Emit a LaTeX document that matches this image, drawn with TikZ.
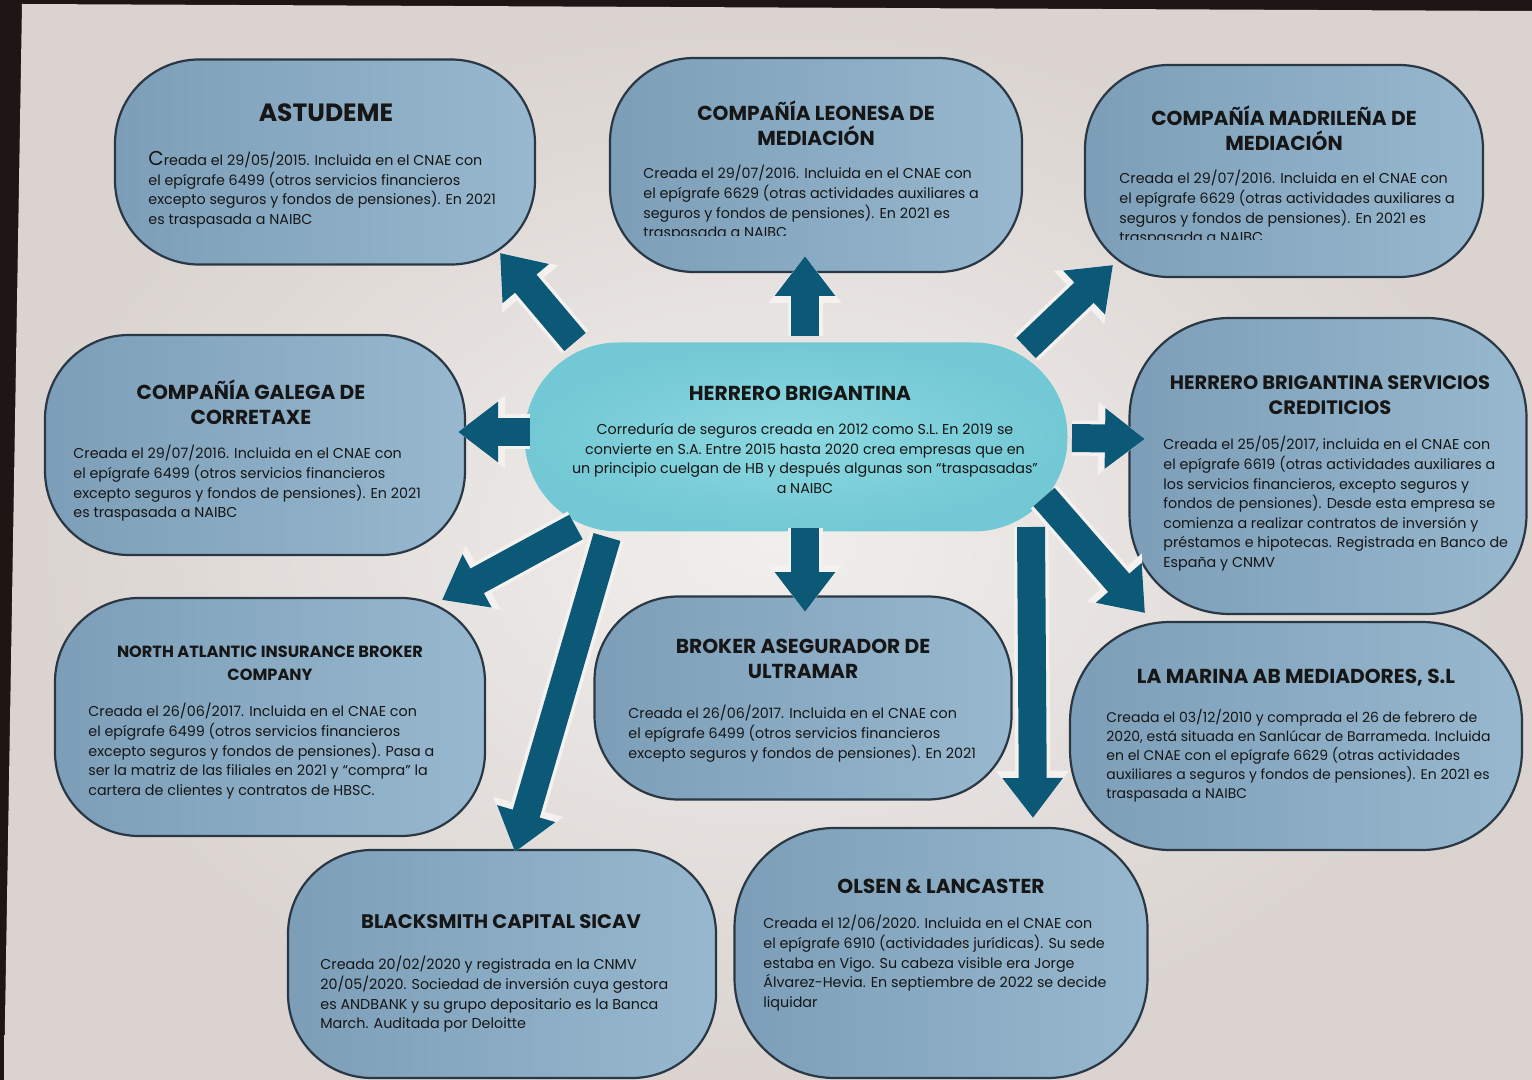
\documentclass[tikz,border=0pt]{standalone}
\usepackage{fontspec}
\setmainfont{Poppins}
\usetikzlibrary{arrows.meta}
\definecolor{bezel}{HTML}{1E1614}
\definecolor{screenin}{HTML}{F1EFED}
\definecolor{screenout}{HTML}{DAD3CF}
\definecolor{boxl}{HTML}{7C9EB8}
\definecolor{boxr}{HTML}{97B8CE}
\definecolor{boxline}{HTML}{2A3845}
\definecolor{hbin}{HTML}{8CD9E1}
\definecolor{hbout}{HTML}{72C8D4}
\definecolor{arrowc}{HTML}{0C5877}
\definecolor{arrowedge}{HTML}{F4F1EE}
\definecolor{ink}{HTML}{161616}
\begin{document}
\begin{tikzpicture}[x=0.5pt,y=-0.5pt,
  box/.style={draw=boxline, line width=1.1pt, left color=boxl, right color=boxr, rounded corners=42pt, inner sep=0pt},
  ttl/.style={font=\fontsize{10.1}{12.5}\selectfont\bfseries, align=center, text=ink, inner sep=0pt},
  bdy/.style={font=\fontsize{7.15}{9.8}\selectfont, align=left, anchor=north west, inner sep=0pt, text=ink},
  barrow/.style={line width=14pt, draw=arrowc, -{Triangle[length=20pt,width=29pt]},
     preaction={draw=arrowedge, line width=17.5pt, -{Triangle[length=23.5pt,width=35pt]}}}
]
\useasboundingbox (0,0) rectangle (1532,1080);
\fill[bezel] (0,0) rectangle (1532,1080);
\shade[inner color=screenin, outer color=screenout] (22,4) -- (1532,11) -- (1532,1080) -- (4,1080) -- cycle;

% boxes
\node[box, minimum width=210pt, minimum height=102.5pt] (ast) at (325,162) {};
\node[box, minimum width=206pt, minimum height=107pt] (leo) at (816,165) {};
\node[box, minimum width=199pt, minimum height=106pt] (mad) at (1284,171) {};
\node[box, minimum width=210pt, minimum height=110pt] (gal) at (255,445) {};
\node[box, inner color=hbin, outer color=hbout, draw=none, rounded corners=47pt, minimum width=271.5pt, minimum height=94.5pt] (hb) at (796,437) {};
\node[box, rounded corners=50pt, minimum width=198.5pt, minimum height=148pt] (hbs) at (1328,466) {};
\node[box, minimum width=215pt, minimum height=119pt] (nai) at (270,717) {};
\node[box, minimum width=208.5pt, minimum height=101.5pt] (bro) at (803,698) {};
\node[box, rounded corners=50pt, minimum width=226pt, minimum height=114pt] (mar) at (1296,736) {};
\node[box, minimum width=214pt, minimum height=114pt] (bla) at (502,964) {};
\node[box, rounded corners=50pt, minimum width=206.5pt, minimum height=125pt] (ols) at (941,953) {};

% arrow end points
\coordinate (s1) at (575,342);  \coordinate (e1) at (500,253);
\coordinate (s2) at (805,336);  \coordinate (e2) at (805,256);
\coordinate (s3) at (1026,348); \coordinate (e3) at (1113,265);
\coordinate (s4) at (530,432);  \coordinate (e4) at (458,432);
\coordinate (s5) at (1072,438); \coordinate (e5) at (1145,439);
\coordinate (s6) at (576,527);  \coordinate (e6) at (442,600);
\coordinate (s7) at (607,537);  \coordinate (e7) at (515,852);
\coordinate (s8) at (805,528);  \coordinate (e8) at (805,612);
\coordinate (s9) at (1031,527); \coordinate (e9) at (1033,818);
\coordinate (s10) at (1044,497); \coordinate (e10) at (1145,613);
\foreach \i in {1,...,10} { \draw[barrow] (s\i) -- (e\i); }

% titles
\node[ttl, font=\fontsize{12.5}{15}\selectfont\bfseries] (ast-t) at (326,113) {ASTUDEME};
\node[ttl] (leo-t) at (816,123) {COMPAÑÍA LEONESA DE\\MEDIACIÓN};
\node[ttl] (mad-t) at (1284,128) {COMPAÑÍA MADRILEÑA DE\\MEDIACIÓN};
\node[ttl] (gal-t) at (251,402) {COMPAÑÍA GALEGA DE\\CORRETAXE};
\node[ttl] (hb-t) at (800,393) {HERRERO BRIGANTINA};
\node[ttl, font=\fontsize{9.7}{12.5}\selectfont\bfseries] (hbs-t) at (1330,395) {HERRERO BRIGANTINA SERVICIOS\\CREDITICIOS};
\node[ttl, font=\fontsize{8.1}{11.5}\selectfont\bfseries] (nai-t) at (270,663) {NORTH ATLANTIC INSURANCE BROKER\\COMPANY};
\node[ttl] (bro-t) at (803,659) {BROKER ASEGURADOR DE\\ULTRAMAR};
\node[ttl] (mar-t) at (1296,678) {LA MARINA AB MEDIADORES, S.L};
\node[ttl, font=\fontsize{9.8}{12.5}\selectfont\bfseries] (bla-t) at (501,922) {BLACKSMITH CAPITAL SICAV};
\node[ttl] (ols-t) at (941,886) {OLSEN \& LANCASTER};

% bodies
\node[bdy] (ast-b) at (148,151) {{\fontsize{10}{9.8}\selectfont C}reada el 29/05/2015. Incluida en el CNAE con\\el epígrafe 6499 (otros servicios financieros\\excepto seguros y fondos de pensiones). En 2021\\es traspasada a NAIBC};
\begin{scope}
\clip (620,150) rectangle (1015,236);
\node[bdy] (leo-b) at (643,165) {Creada el 29/07/2016. Incluida en el CNAE con\\el epígrafe 6629 (otras actividades auxiliares a\\seguros y fondos de pensiones). En 2021 es\\traspasada a NAIBC};
\end{scope}
\begin{scope}
\clip (1095,150) rectangle (1480,240);
\node[bdy] (mad-b) at (1119,170) {Creada el 29/07/2016. Incluida en el CNAE con\\el epígrafe 6629 (otras actividades auxiliares a\\seguros y fondos de pensiones). En 2021 es\\traspasada a NAIBC};
\end{scope}
\node[bdy] (gal-b) at (73,445) {Creada el 29/07/2016. Incluida en el CNAE con\\el epígrafe 6499 (otros servicios financieros\\excepto seguros y fondos de pensiones). En 2021\\es traspasada a NAIBC};
\node[bdy, anchor=north, align=center] (hb-b) at (805,423) {Correduría de seguros creada en 2012 como S.L. En 2019 se\\convierte en S.A. Entre 2015 hasta 2020 crea empresas que en\\un principio cuelgan de HB y después algunas son “traspasadas”\\a NAIBC};
\node[bdy] (hbs-b) at (1163,436) {Creada el 25/05/2017, incluida en el CNAE con\\el epígrafe 6619 (otras actividades auxiliares a\\los servicios financieros, excepto seguros y\\fondos de pensiones). Desde esta empresa se\\comienza a realizar contratos de inversión y\\préstamos e hipotecas. Registrada en Banco de\\España y CNMV};
\node[bdy] (nai-b) at (88,703) {Creada el 26/06/2017. Incluida en el CNAE con\\el epígrafe 6499 (otros servicios financieros\\excepto seguros y fondos de pensiones). Pasa a\\ser la matriz de las filiales en 2021 y “compra” la\\cartera de clientes y contratos de HBSC.};
\node[bdy] (bro-b) at (628,705) {Creada el 26/06/2017. Incluida en el CNAE con\\el epígrafe 6499 (otros servicios financieros\\excepto seguros y fondos de pensiones). En 2021};
\node[bdy, font=\fontsize{7.0}{9.5}\selectfont] (mar-b) at (1106,709) {Creada el 03/12/2010 y comprada el 26 de febrero de\\2020, está situada en Sanlúcar de Barrameda. Incluida\\en el CNAE con el epígrafe 6629 (otras actividades\\auxiliares a seguros y fondos de pensiones). En 2021 es\\traspasada a NAIBC};
\node[bdy] (bla-b) at (320,956) {Creada 20/02/2020 y registrada en la CNMV\\20/05/2020. Sociedad de inversión cuya gestora\\es ANDBANK y su grupo depositario es la Banca\\March. Auditada por Deloitte};
\node[bdy] (ols-b) at (763,915) {Creada el 12/06/2020. Incluida en el CNAE con\\el epígrafe 6910 (actividades jurídicas). Su sede\\estaba en Vigo. Su cabeza visible era Jorge\\Álvarez-Hevia. En septiembre de 2022 se decide\\liquidar};
\end{tikzpicture}
\end{document}
